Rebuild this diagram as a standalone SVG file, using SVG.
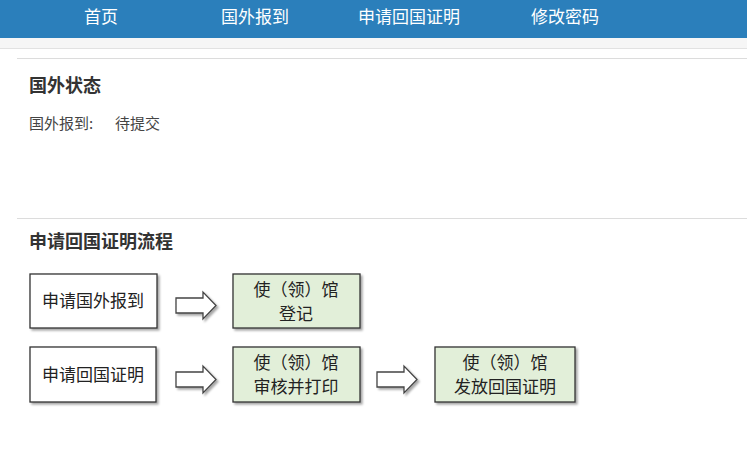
<svg xmlns="http://www.w3.org/2000/svg" width="747" height="462" viewBox="0 0 747 462">
<style>
text{font-family:"Noto Sans CJK SC","Liberation Sans",sans-serif}
.nav{fill:#fff;font-size:17px}
.w{fill:#fff;stroke:#333;stroke-width:1.3}
.g{fill:#e2efd9;stroke:#333;stroke-width:1.3}
.t{font-size:17px;fill:#222;text-anchor:middle}
.ar{fill:#fff;stroke:#444;stroke-width:1.3}
</style>
<defs><filter id="s" x="-10%" y="-10%" width="130%" height="130%"><feDropShadow dx="2" dy="2" stdDeviation="1" flood-color="#000" flood-opacity="0.35"/></filter></defs>
<rect width="747" height="462" fill="#fff"/>
<rect width="747" height="38" fill="#2b7fbb"/>
<rect y="38" width="747" height="10" fill="#f6f6f6"/>
<line x1="0" y1="48.5" x2="747" y2="48.5" stroke="#e2e2e2"/>
<text class="nav" x="84" y="23">首页</text>
<text class="nav" x="221" y="23">国外报到</text>
<text class="nav" x="358" y="23">申请回国证明</text>
<text class="nav" x="531" y="23">修改密码</text>
<line x1="17" y1="58.5" x2="747" y2="58.5" stroke="#dcdcdc"/>
<text x="29" y="92" font-size="18" font-weight="bold" fill="#333">国外状态</text>
<text x="29" y="129" font-size="15" fill="#444">国外报到:<tspan x="115">待提交</tspan></text>
<line x1="17" y1="218.5" x2="747" y2="218.5" stroke="#dcdcdc"/>
<text x="29" y="248" font-size="18" font-weight="bold" fill="#333">申请回国证明流程</text>
<g id="connectors">
<path class="ar" filter="url(#s)" d="M176 298H203V292L216 305.5L203 319V313H176Z"/>
<path class="ar" filter="url(#s)" d="M176 372H203V366L216 379.5L203 393V387H176Z"/>
<path class="ar" filter="url(#s)" d="M377 372H404V366L417 379.5L404 393V387H377Z"/>
</g>
<g id="n1"><rect class="w" filter="url(#s)" x="30" y="274" width="127" height="54"/><text class="t" x="93" y="307">申请国外报到</text></g>
<g id="n2"><rect class="g" filter="url(#s)" x="233" y="274" width="127" height="54"/><text class="t" x="296" y="296">使（领）馆</text><text class="t" x="296" y="320">登记</text></g>
<g id="n3"><rect class="w" filter="url(#s)" x="30" y="347" width="126" height="55"/><text class="t" x="93" y="381">申请回国证明</text></g>
<g id="n4"><rect class="g" filter="url(#s)" x="233" y="347" width="127" height="55"/><text class="t" x="296" y="369">使（领）馆</text><text class="t" x="296" y="393">审核并打印</text></g>
<g id="n5"><rect class="g" filter="url(#s)" x="435" y="347" width="140" height="55"/><text class="t" x="505" y="369">使（领）馆</text><text class="t" x="505" y="393">发放回国证明</text></g>
</svg>
